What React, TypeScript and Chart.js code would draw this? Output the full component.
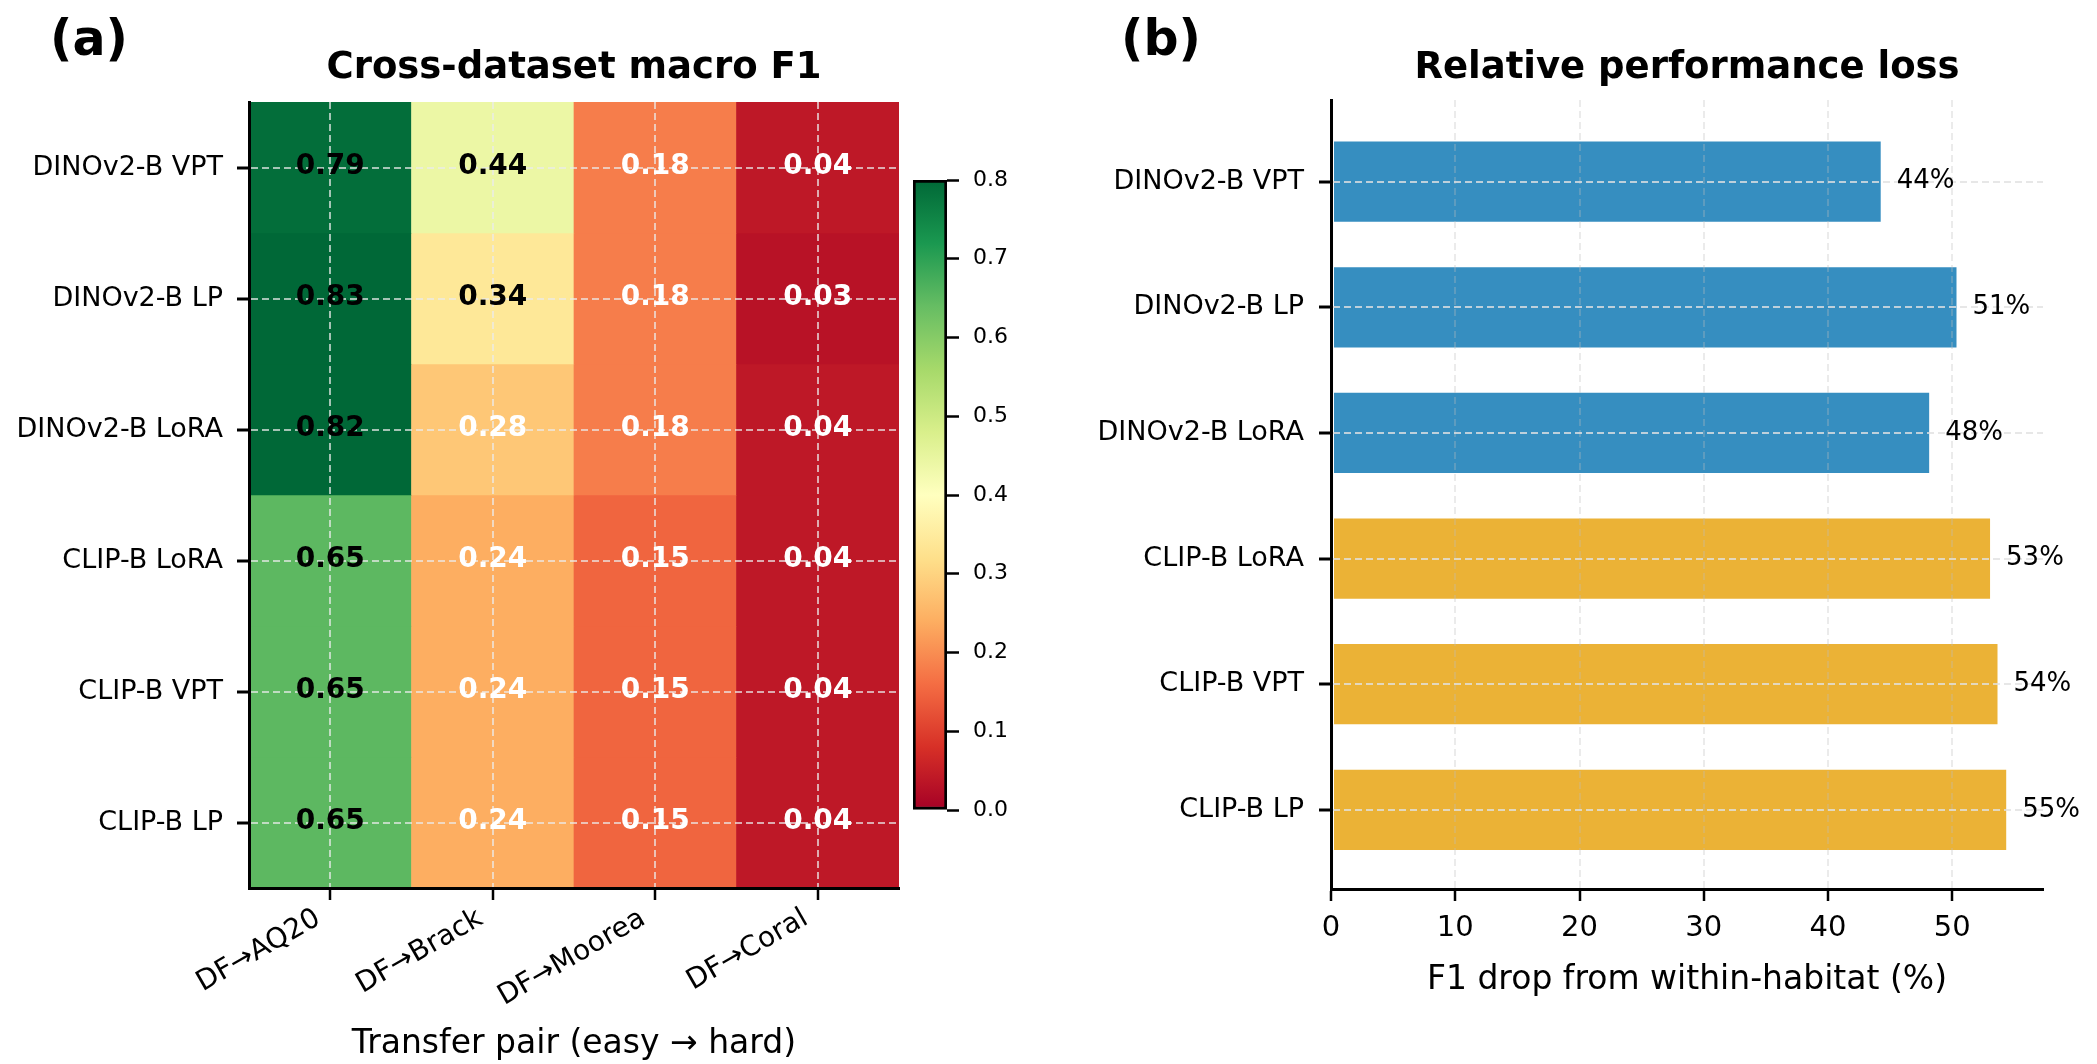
import React, { useEffect, useRef } from "react";
import { Chart, registerables } from "chart.js";

Chart.register(...registerables);

const FONT = "'DejaVu Sans', sans-serif";
Chart.defaults.font.family = FONT;
Chart.defaults.color = "#000";

// ---------- data ----------
const models = ["DINOv2-B VPT", "DINOv2-B LP", "DINOv2-B LoRA", "CLIP-B LoRA", "CLIP-B VPT", "CLIP-B LP"];
const transferPairs = ["DF→AQ20", "DF→Brack", "DF→Moorea", "DF→Coral"];

const f1DinoVpt = [0.79, 0.44, 0.18, 0.04];
const f1DinoLp = [0.83, 0.34, 0.18, 0.03];
const f1DinoLora = [0.82, 0.28, 0.18, 0.04];
const f1ClipLora = [0.65, 0.24, 0.15, 0.04];
const f1ClipVpt = [0.65, 0.24, 0.15, 0.04];
const f1ClipLp = [0.65, 0.24, 0.15, 0.04];
const f1Rows = [f1DinoVpt, f1DinoLp, f1DinoLora, f1ClipLora, f1ClipVpt, f1ClipLp];

const relativeDrop = [44.4, 50.5, 48.3, 53.2, 53.8, 54.5];

const colorbarTicks = [0, 0.1, 0.2, 0.3, 0.4, 0.5, 0.6, 0.7, 0.8];
const dropTicks = [0, 10, 20, 30, 40, 50];

// ---------- styles ----------
const VMIN = 0;
const VMAX = 0.8;
const RDYLGN = ["#a50026", "#d73027", "#f46d43", "#fdae61", "#fee08b", "#ffffbf", "#d9ef8b", "#a6d96a", "#66bd63", "#1a9850", "#006837"];
const BLUE = "#368ec0";
const GOLD = "#ebb236";

function hexToRgb(h: string) {
  return [parseInt(h.slice(1, 3), 16), parseInt(h.slice(3, 5), 16), parseInt(h.slice(5, 7), 16)];
}
function cmap(v: number) {
  let t = (v - VMIN) / (VMAX - VMIN);
  t = Math.max(0, Math.min(1, t));
  const p = t * (RDYLGN.length - 1);
  const i = Math.min(Math.floor(p), RDYLGN.length - 2);
  const f = p - i;
  const a = hexToRgb(RDYLGN[i]);
  const b = hexToRgb(RDYLGN[i + 1]);
  const c = a.map((x, k) => Math.round(x + (b[k] - x) * f));
  return `rgb(${c[0]},${c[1]},${c[2]})`;
}

function titlePlugin(title: string, tag: string, tagX: number) {
  return {
    id: "panelTitle",
    afterDraw(chart: any) {
      const { ctx, chartArea } = chart;
      ctx.save();
      ctx.fillStyle = "#000";
      ctx.textBaseline = "alphabetic";
      ctx.font = `bold 37px ${FONT}`;
      ctx.textAlign = "center";
      ctx.fillText(title, (chartArea.left + chartArea.right) / 2, 78);
      ctx.font = `bold 49px ${FONT}`;
      ctx.textAlign = "left";
      ctx.fillText(tag, tagX, 55);
      ctx.restore();
    },
  };
}

const heatLabelPlugin = {
  id: "heatLabels",
  afterDraw(chart: any) {
    const { ctx } = chart;
    ctx.save();
    ctx.font = `bold 28px ${FONT}`;
    ctx.textAlign = "center";
    ctx.textBaseline = "middle";
    f1Rows.forEach((row, r) => {
      const meta = chart.getDatasetMeta(r);
      meta.data.forEach((el: any, c: number) => {
        const v = row[c];
        const p = el.getProps(["x", "y", "base"], true);
        ctx.fillStyle = v < 0.3 ? "#fff" : "#000";
        ctx.fillText(v.toFixed(2), p.x, (p.y + p.base) / 2 - 1);
      });
    });
    ctx.restore();
  },
};

const barLabelPlugin = {
  id: "barLabels",
  afterDraw(chart: any) {
    const { ctx } = chart;
    ctx.save();
    ctx.font = `26px ${FONT}`;
    ctx.textAlign = "left";
    ctx.textBaseline = "middle";
    ctx.fillStyle = "#000";
    const meta = chart.getDatasetMeta(0);
    meta.data.forEach((el: any, i: number) => {
      const p = el.getProps(["x", "y"], true);
      ctx.fillText(`${Math.round(relativeDrop[i])}%`, p.x + 14, p.y);
    });
    ctx.restore();
  },
};

const colorbarLabelPlugin = {
  id: "colorbarLabels",
  afterDraw(chart: any) {
    const { ctx, chartArea } = chart;
    const scale = chart.scales.y;
    ctx.save();
    ctx.font = `22px ${FONT}`;
    ctx.textAlign = "left";
    ctx.textBaseline = "middle";
    ctx.fillStyle = "#000";
    colorbarTicks.forEach((v) => {
      ctx.fillText(v.toFixed(1), chartArea.right + 26, scale.getPixelForValue(v));
    });
    ctx.restore();
  },
};

function ChartCanvas(props: { left: number; top: number; width: number; height: number; build: () => any }) {
  const ref = useRef<HTMLCanvasElement | null>(null);
  useEffect(() => {
    const chart = new Chart(ref.current as HTMLCanvasElement, props.build());
    return () => chart.destroy();
  }, []);
  return (
    <canvas
      ref={ref}
      width={props.width}
      height={props.height}
      style={{ position: "absolute", left: props.left, top: props.top, width: props.width, height: props.height }}
    />
  );
}

const HEAT_GRID = "rgba(235,235,235,0.7)";

function buildHeatmap() {
  const datasets = f1Rows.map((row, r) => ({
    label: models[r],
    data: row.map(() => [r - 0.5, r + 0.5]),
    backgroundColor: row.map((v) => cmap(v)),
    borderWidth: 0,
    grouped: false,
    barPercentage: 1,
    categoryPercentage: 1,
  }));
  return {
    type: "bar",
    data: { labels: transferPairs, datasets },
    options: {
      responsive: false,
      animation: false,
      layout: { padding: { top: 102, left: 0, right: 10, bottom: 0 } },
      plugins: { legend: { display: false }, tooltip: { enabled: false } },
      scales: {
        x: {
          type: "category",
          offset: true,
          grid: { z: 1, offset: false, color: HEAT_GRID, lineWidth: 2, drawTicks: true, tickLength: 12, tickColor: "#000", tickWidth: 2.5 },
          border: { z: 2, display: true, color: "#000", width: 3, dash: [7, 4] },
          ticks: { autoSkip: false, minRotation: 30, maxRotation: 30, font: { size: 28, family: FONT }, color: "#000", padding: 2, labelOffset: -12 },
          title: { display: true, text: "Transfer pair (easy → hard)", font: { size: 33, family: FONT }, color: "#000", padding: { top: 0, bottom: 0 } },
          afterFit: (s: any) => {
            s.height = 176;
          },
        },
        y: {
          type: "linear",
          min: -0.5,
          max: 5.5,
          reverse: true,
          offset: false,
          afterBuildTicks: (s: any) => {
            s.ticks = models.map((_, i) => ({ value: i }));
          },
          ticks: { callback: (v: number) => models[v], font: { size: 27, family: FONT }, color: "#000", padding: 14 },
          grid: { z: 1, color: HEAT_GRID, lineWidth: 2, drawTicks: true, tickLength: 12, tickColor: "#000", tickWidth: 3 },
          border: { z: 2, display: true, color: "#000", width: 3, dash: [7, 4] },
          afterFit: (s: any) => {
            s.width = 249;
          },
        },
      },
    },
    plugins: [heatLabelPlugin, titlePlugin("Cross-dataset macro F1", "(a)", 50)],
  };
}

function buildColorbar() {
  return {
    type: "bar",
    data: {
      labels: ["F1"],
      datasets: [
        {
          data: [[VMIN, VMAX]],
          backgroundColor: (c: any) => {
            const chart = c.chart;
            if (!chart.chartArea) return "rgba(0,0,0,0)";
            const yb = chart.scales.y.getPixelForValue(VMIN);
            const yt = chart.scales.y.getPixelForValue(VMAX);
            const g = chart.ctx.createLinearGradient(0, yb, 0, yt);
            RDYLGN.forEach((hex, i) => g.addColorStop(i / (RDYLGN.length - 1), hex));
            return g;
          },
          borderColor: "#000",
          borderWidth: 3,
          borderSkipped: false,
          barPercentage: 1,
          categoryPercentage: 1,
        },
      ],
    },
    options: {
      responsive: false,
      animation: false,
      layout: { padding: { top: 30, left: 13, right: 0, bottom: 30 } },
      plugins: { legend: { display: false }, tooltip: { enabled: false } },
      scales: {
        x: { display: false },
        y: {
          type: "linear",
          position: "right",
          min: VMIN,
          max: VMAX,
          afterBuildTicks: (s: any) => {
            s.ticks = colorbarTicks.map((v) => ({ value: v }));
          },
          ticks: { display: false },
          grid: { drawOnChartArea: false, drawTicks: true, tickLength: 12, tickColor: "#000", tickWidth: 2.5 },
          border: { display: false },
          afterFit: (s: any) => {
            s.width = 93;
          },
        },
      },
    },
    plugins: [colorbarLabelPlugin],
  };
}

function buildBars() {
  return {
    type: "bar",
    data: {
      datasets: [
        {
          data: relativeDrop.map((v, i) => ({ x: v, y: i })),
          backgroundColor: models.map((m) => (m.startsWith("DINO") ? BLUE : GOLD)),
          borderColor: "rgba(255,255,255,0.55)",
          borderWidth: 2,
          borderSkipped: false,
          barPercentage: 0.67,
          categoryPercentage: 1,
        },
      ],
    },
    options: {
      responsive: false,
      animation: false,
      indexAxis: "y",
      layout: { padding: { top: 100, left: 0, right: 54, bottom: 0 } },
      plugins: { legend: { display: false }, tooltip: { enabled: false } },
      scales: {
        x: {
          type: "linear",
          min: 0,
          max: 57.3,
          afterBuildTicks: (s: any) => {
            s.ticks = dropTicks.map((v) => ({ value: v }));
          },
          ticks: { font: { size: 29, family: FONT }, color: "#000", padding: 10, callback: (v: number) => String(v) },
          grid: { z: 1, color: "rgba(190,190,190,0.3)", lineWidth: 2, tickLength: 12, tickColor: "#000", tickWidth: 2.5 },
          border: { z: 2, display: true, color: "#000", width: 3, dash: [7, 4] },
          title: { display: true, text: "F1 drop from within-habitat (%)", font: { size: 33, family: FONT }, color: "#000", padding: { top: 0, bottom: 64 } },
          afterFit: (s: any) => {
            s.height = 175;
          },
        },
        y: {
          type: "linear",
          min: -0.65,
          max: 5.63,
          reverse: true,
          offset: false,
          afterBuildTicks: (s: any) => {
            s.ticks = models.map((_, i) => ({ value: i }));
          },
          ticks: { callback: (v: number) => models[v], font: { size: 27, family: FONT }, color: "#000", padding: 15 },
          grid: { z: 1, offset: false, color: "rgba(225,225,225,0.8)", lineWidth: 2, tickLength: 12, tickColor: "#000", tickWidth: 3 },
          border: { z: 2, display: true, color: "#000", width: 3, dash: [7, 4] },
          afterFit: (s: any) => {
            s.width = 271;
          },
        },
      },
    },
    plugins: [barLabelPlugin, titlePlugin("Relative performance loss", "(b)", 61)],
  };
}

export default function App() {
  return (
    <div style={{ position: "absolute", left: 0, top: 0, width: 2097, height: 1064, background: "#fff", overflow: "hidden" }}>
      <ChartCanvas left={0} top={0} width={909} height={1064} build={buildHeatmap} />
      <ChartCanvas left={900} top={150} width={140} height={690} build={buildColorbar} />
      <ChartCanvas left={1060} top={0} width={1037} height={1064} build={buildBars} />
    </div>
  );
}
